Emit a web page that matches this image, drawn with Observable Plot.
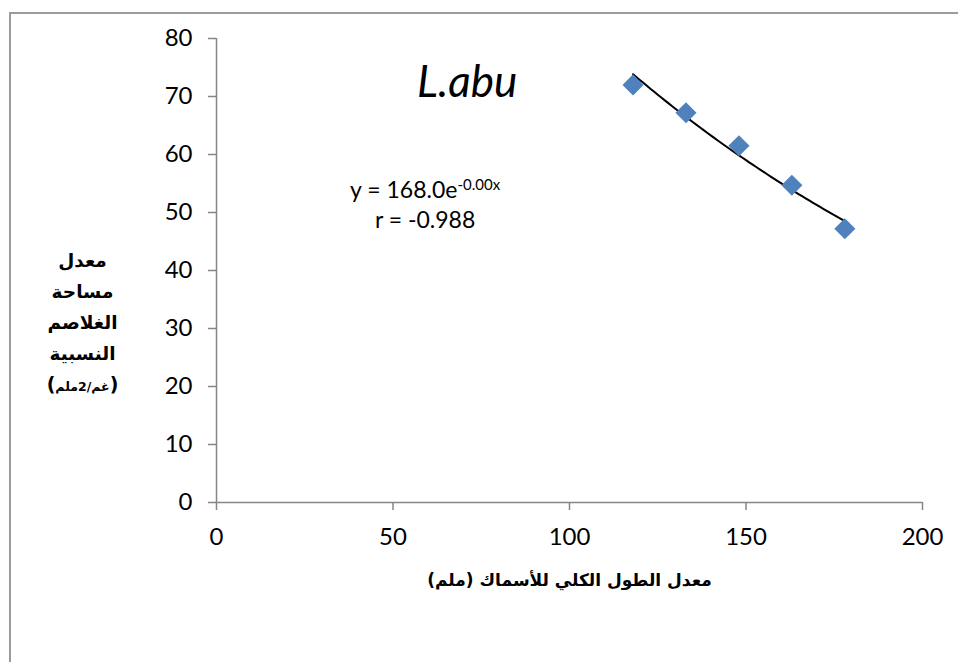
<!DOCTYPE html>
<html><head><meta charset="utf-8">
<script src="https://cdn.jsdelivr.net/npm/d3@7"></script>
<script src="https://cdn.jsdelivr.net/npm/@observablehq/plot@0.6"></script>
<style>
body{margin:0;background:#fff;}
#wrap{position:relative;width:958px;height:662px;overflow:hidden;background:#fff;}
#frame{position:absolute;left:9px;top:12px;width:1200px;height:1200px;border:2px solid #9b9b9b;box-sizing:border-box;}
#chart{position:absolute;left:0;top:0;}
</style></head><body>
<div id="wrap"><div id="frame"></div><div id="chart"></div></div>
<script>
// ---- data ----
const lengths = [118, 133, 148, 163, 178];
const areas = [72.0, 67.2, 61.5, 54.7, 47.2];
const xTicks = [0, 50, 100, 150, 200];
const yTicks = [0, 10, 20, 30, 40, 50, 60, 70, 80];
const speciesName = "L.abu";
const equationMain = "y = 168.0e";
const equationExp = "-0.00x";
const rText = "r = -0.988";
const xTitle = "معدل الطول الكلي للأسماك (ملم)";
const yTitleLines = ["معدل", "مساحة", "الغلاصم", "النسبية"];
const yUnitsInner = "غم/2ملم";
const yUnits = "(" + yUnitsInner + ")";

const points = lengths.map((x, i) => ({x, y: areas[i]}));

// exponential least-squares fit (ln y on x), as Excel's trendline
const mx = d3.mean(points, d => d.x);
const ml = d3.mean(points, d => Math.log(d.y));
const b = d3.sum(points, d => (d.x - mx) * (Math.log(d.y) - ml)) / d3.sum(points, d => (d.x - mx) ** 2);
const a = Math.exp(ml - b * mx);
const [x0, x1] = d3.extent(lengths);
const steps = 60;
const trend = d3.range(steps + 1).map(i => {
  const x = x0 + (x1 - x0) * i / steps;
  return {x, y: a * Math.exp(b * x)};
});

const tickFont = "Lato, 'Open Sans', sans-serif";
const arFont = "'DejaVu Sans', sans-serif";
const grey = "#868686";

const chart = Plot.plot({
  width: 958,
  height: 662,
  marginLeft: 216,
  marginRight: 36,
  marginTop: 38,
  marginBottom: 160,
  style: {fontFamily: tickFont, color: "#000", background: "transparent", overflow: "visible"},
  x: {domain: [0, 200]},
  y: {domain: [0, 80]},
  marks: [
    Plot.ruleY([0], {x1: 0, x2: 200, stroke: grey, strokeWidth: 1.5}),
    Plot.ruleX([0], {y1: 0, y2: 80, stroke: grey, strokeWidth: 1.5}),
    Plot.axisX({ticks: xTicks, tickSize: 8, tickPadding: 17, stroke: grey, strokeWidth: 1.5, fill: "#000", fontSize: 24, label: null}),
    Plot.axisY({ticks: yTicks, tickSize: 8, tickPadding: 16, stroke: grey, strokeWidth: 1.5, fill: "#000", fontSize: 24, label: null}),
    Plot.line(trend, {x: "x", y: "y", stroke: "#000", strokeWidth: 2, curve: "linear"}),
    Plot.dot(points, {x: "x", y: "y", symbol: "diamond2", r: 9.5, fill: "#4F81BD", stroke: "none"}),
    Plot.text([speciesName], {x: 71, y: 72.4, text: d => d, fontSize: 44, fontStyle: "italic", fill: "#000", textAnchor: "middle", lineAnchor: "middle"}),
    Plot.text([equationMain + equationExp], {x: 59.1, y: 53.8, text: d => d, fontSize: 23, fill: "#000", textAnchor: "middle", lineAnchor: "middle"}),
    Plot.text([rText], {x: 59.1, y: 48.6, text: d => d, fontSize: 23, fill: "#000", textAnchor: "middle", lineAnchor: "middle"}),
    Plot.text([xTitle], {frameAnchor: "bottom", dy: 78, text: d => d, fontSize: 17, fontWeight: "bold", fontFamily: arFont, fill: "#000", textAnchor: "middle", lineAnchor: "middle"}),
    Plot.text([yTitleLines.join("\n")], {frameAnchor: "left", y: 34.3, dx: -134, text: d => d, fontSize: 18.5, lineHeight: 1.68, fontWeight: "bold", fontFamily: arFont, fill: "#000", textAnchor: "middle", lineAnchor: "middle"}),
    Plot.text([yUnits], {frameAnchor: "left", y: 20.2, dx: -134, text: d => d, fontSize: 19, fontWeight: "bold", fontFamily: arFont, fill: "#000", textAnchor: "middle", lineAnchor: "middle"})
  ]
});

document.getElementById("chart").appendChild(chart);

// post-process: superscript exponent, smaller unit text, rtl direction for the x title
const svg = d3.select(chart);
svg.selectAll("text").each(function () {
  const t = d3.select(this);
  const s = this.textContent;
  if (s === equationMain + equationExp) {
    t.text(null);
    t.append("tspan").text(equationMain);
    t.append("tspan").attr("font-size", 15).attr("dy", "-0.5em").text(equationExp);
  } else if (s === yUnits) {
    t.text(null);
    t.append("tspan").text("(");
    t.append("tspan").attr("font-size", 12.5).text(yUnitsInner);
    t.append("tspan").text(")");
  } else if (s === xTitle) {
    t.attr("direction", "rtl");
  }
});
</script>
</body></html>
